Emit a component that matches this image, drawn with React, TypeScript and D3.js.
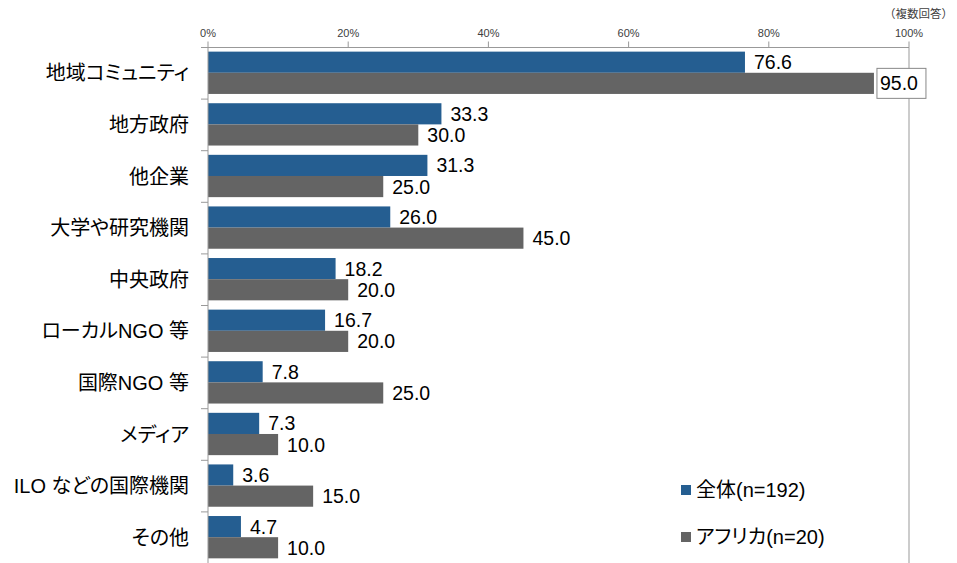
import React from "react";
import * as d3 from "d3";

const categories = [
  "地域コミュニティ",
  "地方政府",
  "他企業",
  "大学や研究機関",
  "中央政府",
  "ローカルNGO 等",
  "国際NGO 等",
  "メディア",
  "ILO などの国際機関",
  "その他",
];
const allValues = [76.6, 33.3, 31.3, 26.0, 18.2, 16.7, 7.8, 7.3, 3.6, 4.7];
const africaValues = [95.0, 30.0, 25.0, 45.0, 20.0, 20.0, 25.0, 10.0, 15.0, 10.0];
const seriesNames = ["全体(n=192)", "アフリカ(n=20)"];
const xTicks = [0, 20, 40, 60, 80, 100];

const W = 957;
const H = 563;
const left = 208;
const right = 909;
const top = 47.5;
const bottom = 563.5;
const BLUE = "#255E91";
const GRAY = "#646464";
const FONT = "'Liberation Sans', Arial, 'Noto Sans CJK JP', sans-serif";

export default function App() {
  const x = d3.scaleLinear().domain([0, 100]).range([left, right]);
  const y = d3.scaleBand<string>().domain(categories).range([top, bottom]).paddingInner(0).paddingOuter(0);
  const bw = y.bandwidth();
  const barPadTop = bw * 0.08;
  const barH = (bw * 0.82) / 2;
  const series = [allValues, africaValues];
  const colors = [BLUE, GRAY];

  return (
    <svg
      width={W}
      height={H}
      style={{ position: "absolute", left: 0, top: 0, background: "#fff" }}
      fontFamily={FONT}
    >
      <rect width={W} height={H} fill="#fff" />
      {/* note */}
      <text x={953} y={18} textAnchor="end" fontSize={11.5} fill="#404040">
        （複数回答）
      </text>
      {/* top axis ticks & labels */}
      {xTicks.map((t) => (
        <g key={t}>
          <line x1={x(t)} x2={x(t)} y1={top - 6} y2={top} stroke="#999" strokeWidth={1} />
          <text x={x(t)} y={37} textAnchor="middle" fontSize={11} fill="#404040">
            {t}%
          </text>
        </g>
      ))}
      {/* bars */}
      {categories.map((c, i) =>
        series.map((s, k) => {
          const y0 = (y(c) as number) + barPadTop + k * barH;
          const v = s[i];
          return (
            <rect key={c + k} x={x(0)} y={y0} width={x(v) - x(0)} height={barH} fill={colors[k]} />
          );
        })
      )}
      {/* axes lines */}
      <line x1={left} x2={right} y1={top} y2={top} stroke="#999" strokeWidth={1} />
      <line x1={left} x2={left} y1={top} y2={bottom} stroke="#999" strokeWidth={1} />
      <line x1={right} x2={right} y1={top} y2={bottom} stroke="#999" strokeWidth={1} />
      {categories.map((c, i) => (
        <line key={"t" + i} x1={left - 7} x2={left} y1={y(c) as number} y2={y(c) as number} stroke="#999" />
      ))}
      {/* category labels */}
      {categories.map((c) => (
        <text
          key={"l" + c}
          x={189}
          y={(y(c) as number) + bw / 2}
          dy="0.35em"
          textAnchor="end"
          fontSize={20}
          fill="#000"
          style={{ fontFeatureSettings: "'palt'" }}
        >
          {c}
        </text>
      ))}
      {/* value labels */}
      {categories.map((c, i) =>
        series.map((s, k) => {
          const cy = (y(c) as number) + barPadTop + k * barH + barH / 2;
          const v = s[i];
          const boxed = k === 1 && i === 0;
          const tx = x(v) + (boxed ? 6 : 9);
          return (
            <g key={"v" + c + k}>
              {boxed && (
                <rect x={x(v) + 3} y={cy - 15} width={49} height={30} fill="#fff" stroke="#888" strokeWidth={1} />
              )}
              <text x={tx} y={cy} dy="0.36em" fontSize={19.5} fill="#000">
                {v.toFixed(1)}
              </text>
            </g>
          );
        })
      )}
      {/* legend */}
      {seriesNames.map((n, k) => (
        <g key={"lg" + k} transform={`translate(681, ${490 + k * 47})`}>
          <rect x={0} y={-5} width={10} height={10} fill={colors[k]} />
          <text x={15} y={0} dy="0.36em" fontSize={20} fill="#000" style={{ fontFeatureSettings: "'palt'" }}>
            {n}
          </text>
        </g>
      ))}
    </svg>
  );
}
